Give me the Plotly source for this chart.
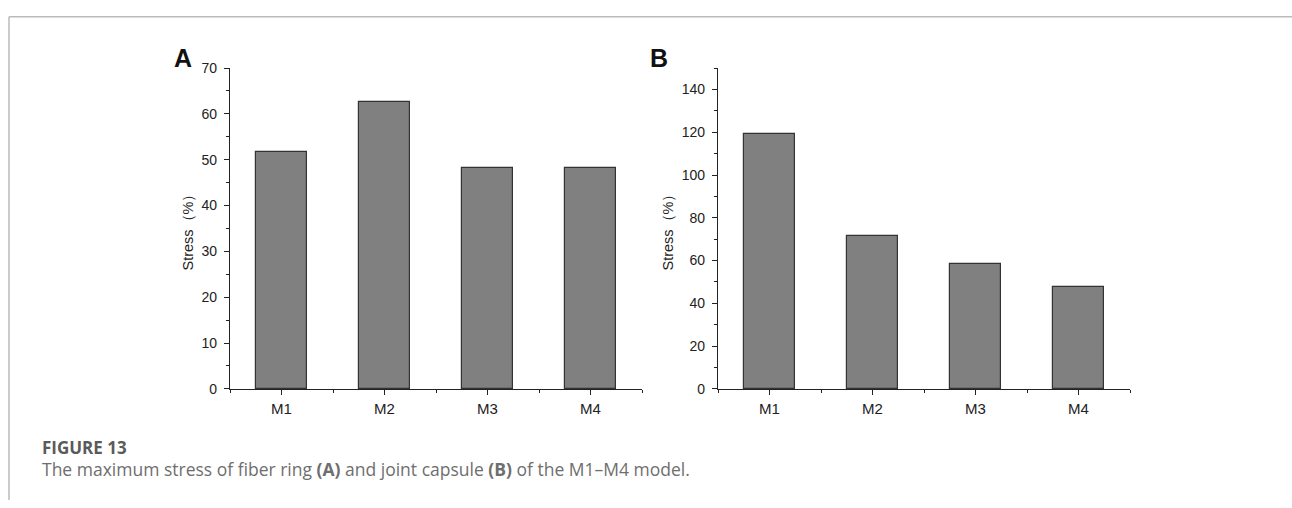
import plotly.graph_objects as go

categories = ["M1", "M2", "M3", "M4"]
stress_a = [51.6, 62.6, 48.2, 48.2]
stress_b = [119.0, 71.5, 58.6, 47.4]
yticks_a = [0, 10, 20, 30, 40, 50, 60, 70]
yticks_b = [0, 20, 40, 60, 80, 100, 120, 140]

W, H = 1292, 508
def px(x): return x / W
def py(y): return 1 - y / H

fig = go.Figure()
xpos = list(range(len(categories)))
bar_style = dict(marker=dict(color="#808080", line=dict(color="#333333", width=1.2)),
                 width=0.5, showlegend=False, hoverinfo="x+y")
fig.add_trace(go.Bar(x=xpos, y=stress_a, xaxis="x", yaxis="y", **bar_style))
fig.add_trace(go.Bar(x=xpos, y=stress_b, xaxis="x2", yaxis="y2", **bar_style))

sans = "Arial, Liberation Sans, sans-serif"
xcommon = dict(range=[-0.5, 3.5], tickvals=xpos, ticktext=categories, showline=True,
               linecolor="#222", linewidth=1.3, ticks="outside", ticklen=5, tickwidth=1.2,
               tickcolor="#222", showgrid=False, zeroline=False,
               tickfont=dict(family=sans, size=15, color="#222"),
               ticklabelstandoff=1,
               minor=dict(tick0=0.5, dtick=1, ticks="outside", ticklen=3, tickwidth=1,
                          tickcolor="#222", showgrid=False))
ycommon = dict(showline=True, linecolor="#222", linewidth=1.3, ticks="outside", ticklen=5,
               tickwidth=1.2, tickcolor="#222", showgrid=False, zeroline=False,
               tickfont=dict(family=sans, size=14, color="#222"), ticklabelstandoff=4,
               title=dict(text="Stress（%）", font=dict(family=sans, size=14.5, color="#222"),
                          standoff=4))

fig.update_layout(
    width=W, height=H, margin=dict(l=0, r=0, t=0, b=0),
    paper_bgcolor="white", plot_bgcolor="white", bargap=0,
    xaxis=dict(domain=[px(230), px(642)], anchor="y", **xcommon),
    xaxis2=dict(domain=[px(718), px(1130)], anchor="y2", **xcommon),
    yaxis=dict(domain=[py(393.3), py(62)], anchor="x", range=[0, 70], tickvals=yticks_a,
               minor=dict(dtick=5, ticks="outside", ticklen=3, tickwidth=1, tickcolor="#222"),
               **ycommon),
    yaxis2=dict(domain=[py(393.3), py(62)], anchor="x2", range=[0, 150], tickvals=yticks_b,
                minor=dict(dtick=10, ticks="outside", ticklen=3, tickwidth=1, tickcolor="#222"),
                **ycommon),
)

letter_font = dict(family=sans, size=25, color="#111")
fig.add_annotation(x=px(182.5), y=py(52), xref="paper", yref="paper", text="<b>A</b>",
                   showarrow=False, font=letter_font, xanchor="center", yanchor="middle")
fig.add_annotation(x=px(659), y=py(52), xref="paper", yref="paper", text="<b>B</b>",
                   showarrow=False, font=letter_font, xanchor="center", yanchor="middle")

fig.add_annotation(x=px(40), y=py(454), xref="paper", yref="paper", text="<b>FIGURE 13</b>",
                   showarrow=False, font=dict(family="Open Sans, sans-serif", size=17, color="#5a5a5a"),
                   xanchor="left", yanchor="middle")
fig.add_annotation(x=px(40), y=py(476), xref="paper", yref="paper",
                   text="The maximum stress of fiber ring <b>(A)</b> and joint capsule <b>(B)</b> of the M1–M4 model.",
                   showarrow=False, font=dict(family="Open Sans, sans-serif", size=17.5, color="#6e6e6e"),
                   xanchor="left", yanchor="middle")

frame = dict(color="#bbbbbb", width=1.5)
fig.add_shape(type="line", xref="paper", yref="paper", x0=px(9), x1=1, y0=py(9), y1=py(9), line=frame)
fig.add_shape(type="line", xref="paper", yref="paper", x0=px(9), x1=px(9), y0=py(9), y1=0, line=frame)

fig.write_html("out.html")
